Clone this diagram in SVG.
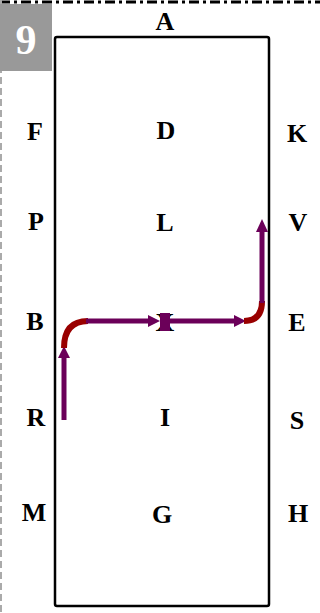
<svg xmlns="http://www.w3.org/2000/svg" width="320" height="613" viewBox="0 0 320 613">
<style>
.lbl{font-family:"Liberation Serif","Times New Roman",serif;font-weight:bold;font-size:26px;fill:#000;text-anchor:middle}
.pur{stroke:#6b0059;stroke-width:5;fill:none}
.red{stroke:#990000;stroke-width:6;fill:none;stroke-linecap:butt}
.head{fill:#6b0059}
</style>
<rect width="320" height="613" fill="#fff"/>
<line x1="0" y1="2" x2="320" y2="2" stroke="#000" stroke-width="3" stroke-dasharray="10 4 3 4"/>
<line x1="1" y1="0" x2="1" y2="613" stroke="#aaaaaa" stroke-width="2" stroke-dasharray="7 4"/>
<g id="badge">
<rect x="0" y="4" width="52" height="67" fill="#999999"/>
<text x="26" y="54" font-family="Liberation Serif,serif" font-weight="bold" font-size="42" fill="#fff" text-anchor="middle">9</text>
</g>
<g id="frame"><rect x="55" y="37" width="214" height="569" rx="2" fill="none" stroke="#000" stroke-width="2.5"/></g>
<g id="nodes">
<g id="nA"><text class="lbl" x="165" y="30">A</text></g>
<g id="nF"><text class="lbl" x="35" y="140">F</text></g>
<g id="nD"><text class="lbl" x="166" y="139">D</text></g>
<g id="nK"><text class="lbl" x="297" y="142">K</text></g>
<g id="nP"><text class="lbl" x="36" y="230">P</text></g>
<g id="nL"><text class="lbl" x="165" y="231">L</text></g>
<g id="nV"><text class="lbl" x="298" y="231">V</text></g>
<g id="nB"><text class="lbl" x="35" y="330">B</text></g>
<g id="nX"><text class="lbl" x="165" y="331">X</text></g>
<g id="nE"><text class="lbl" x="297" y="331">E</text></g>
<g id="nR"><text class="lbl" x="36" y="426">R</text></g>
<g id="nI"><text class="lbl" x="165" y="426">I</text></g>
<g id="nS"><text class="lbl" x="297" y="429">S</text></g>
<g id="nM"><text class="lbl" x="34" y="521">M</text></g>
<g id="nG"><text class="lbl" x="162" y="523">G</text></g>
<g id="nH"><text class="lbl" x="298" y="522">H</text></g>
</g>
<g id="connectors">
<line class="pur" x1="64" y1="420" x2="64" y2="356"/>
<polygon class="head" points="64,346 58,358 70,358"/>
<path class="red" d="M64,348 Q64,321 88,321"/>
<line class="pur" x1="86" y1="321" x2="150" y2="321"/>
<polygon class="head" points="160,321 148,315 148,327"/>
<rect x="160" y="313" width="10" height="18" fill="#6b0059"/>
<line class="pur" x1="170" y1="321" x2="236" y2="321"/>
<polygon class="head" points="246,321 234,315 234,327"/>
<path class="red" d="M244,321 Q262,321 262,301"/>
<line class="pur" x1="262" y1="303" x2="262" y2="230"/>
<polygon class="head" points="262,219 256,232 268,232"/>
</g>
</svg>
